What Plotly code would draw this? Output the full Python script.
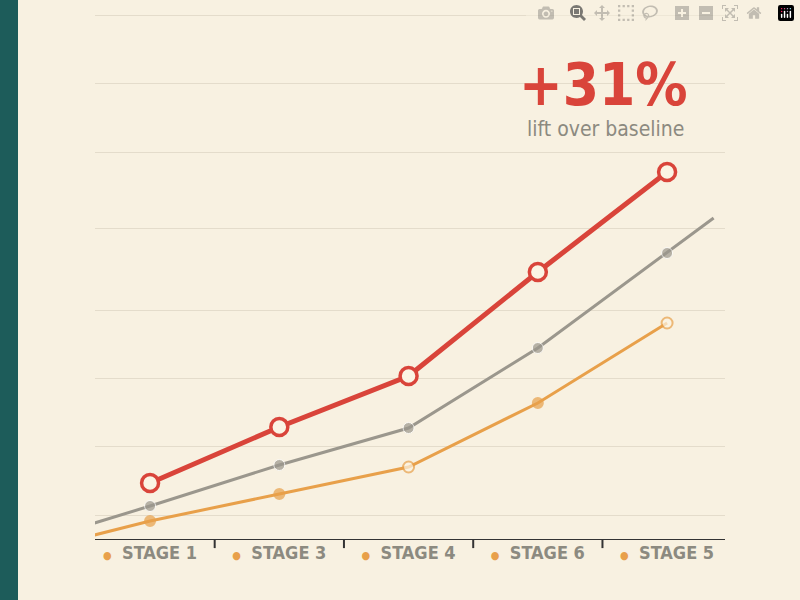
import plotly.graph_objects as go

stages = ["STAGE 1", "STAGE 3", "STAGE 4", "STAGE 6", "STAGE 5"]
pos = [1, 2, 3, 4, 5]

red_vals = [57, 113, 164, 268, 368]
gray_x = [0.57, 1, 2, 3, 4, 5, 5.36]
gray_vals = [17, 34, 75, 112, 192, 287, 322]
orange_x = [0.57, 1, 2, 3, 4, 5]
orange_vals = [5, 19, 46, 73, 137, 217]
orange_fill = ["#e8a04a", "#e8a04a", "#e8a04a", "#fbf4e4", "#e8a04a", "#fbf4e4"]
grid_vals = [25, 94, 162, 230, 312, 388, 457, 525]

RED = "#d9443a"
GRAY = "#9b978d"
ORANGE = "#e8a04a"
BG = "#f8f1e1"

fig = go.Figure()
fig.add_trace(go.Scatter(x=orange_x, y=orange_vals, mode="lines+markers",
                         line=dict(color=ORANGE, width=3),
                         marker=dict(size=[0, 10, 10, 11, 10, 11], color=orange_fill,
                                     line=dict(color=ORANGE, width=2))))
fig.add_trace(go.Scatter(x=gray_x, y=gray_vals, mode="lines+markers",
                         line=dict(color=GRAY, width=3),
                         marker=dict(size=[0, 11, 11, 11, 11, 11, 0], color=GRAY)))
fig.add_trace(go.Scatter(x=pos, y=red_vals, mode="lines+markers",
                         line=dict(color=RED, width=5),
                         marker=dict(size=17, color="#fbf4e4", line=dict(color=RED, width=3.5))))

ticktext = [f"<span style='color:{ORANGE};font-size:11px'>●</span>  <b>{s}</b>" for s in stages]

shapes = [dict(type="rect", xref="paper", yref="paper", x0=-95 / 630, x1=-77 / 630,
               y0=-60 / 540, y1=1, fillcolor="#1d5c5a", line_width=0, layer="above")]
for a, b in zip(pos[:-1], pos[1:]):
    m = (a + b) / 2
    shapes.append(dict(type="line", xref="x", yref="paper", x0=m, x1=m, y0=0, y1=-0.015,
                       line=dict(color="#333333", width=2)))
shapes.append(dict(type="line", xref="paper", yref="y", x0=0, x1=1, y0=0, y1=0,
                   line=dict(color="#333333", width=2)))

fig.update_layout(
    width=800, height=600, showlegend=False,
    paper_bgcolor=BG, plot_bgcolor=BG,
    margin=dict(l=95, r=75, t=0, b=60),
    shapes=shapes,
    xaxis=dict(range=[0.574, 5.448], tickvals=pos, ticktext=ticktext, showgrid=False,
               zeroline=False, ticks="", showline=False,
               tickfont=dict(family="DejaVu Sans Condensed", size=18, color="#8c8a80")),
    yaxis=dict(range=[0, 540], tickvals=grid_vals, showticklabels=False, zeroline=False,
               gridcolor="#e4dccb", gridwidth=1),
    annotations=[
        dict(text="<b>+31%</b>", xref="paper", yref="paper", x=(603 - 95) / 630,
             y=1 - 85 / 540, xanchor="center", yanchor="middle", showarrow=False,
             font=dict(family="DejaVu Sans Condensed", size=58, color=RED)),
        dict(text="lift over baseline", xref="paper", yref="paper", x=(605 - 95) / 630,
             y=1 - 129 / 540, xanchor="center", yanchor="middle", showarrow=False,
             font=dict(family="DejaVu Sans Condensed", size=21, color="#8c8a80")),
    ],
)
fig.write_html("out.html", post_script="document.body.style.margin='0';")
